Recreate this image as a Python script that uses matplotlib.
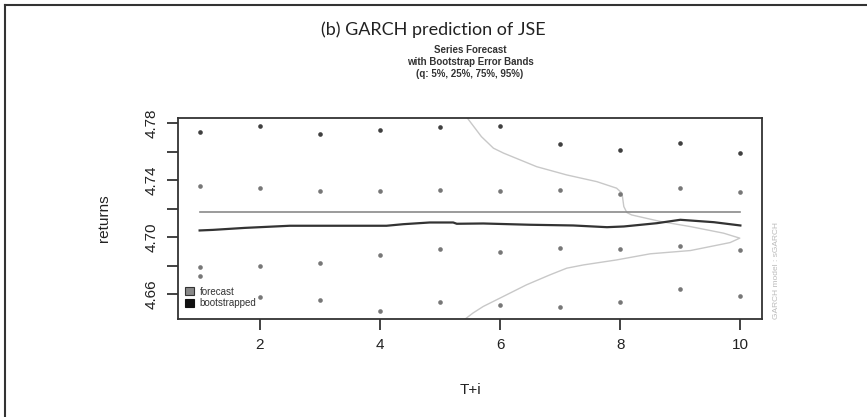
import numpy as np
import matplotlib
matplotlib.use("Agg")
import matplotlib.pyplot as plt
from matplotlib.patches import Rectangle
from matplotlib.lines import Line2D

# horizon steps
steps = [1, 2, 3, 4, 5, 6, 7, 8, 9, 10]
# bootstrap quantile points
q95 = [4.7741, 4.7783, 4.7723, 4.7753, 4.7776, 4.7783, 4.7655, 4.7610, 4.7664, 4.7590]
q75 = [4.7360, 4.7346, 4.7323, 4.7323, 4.7332, 4.7323, 4.7330, 4.7302, 4.7346, 4.7316]
q25 = [4.6787, 4.6794, 4.6818, 4.6878, 4.6916, 4.6899, 4.6923, 4.6916, 4.6939, 4.6909]
q05 = [4.6728, 4.6579, 4.6560, 4.6478, 4.6546, 4.6523, 4.6506, 4.6546, 4.6635, 4.6590]

forecast = [4.7175] * 10

boot_x = [1.0, 1.22, 1.75, 2.5, 4.11, 4.39, 4.83, 5.22, 5.28, 5.72, 6.5, 7.22,
          7.78, 8.06, 8.61, 9.0, 9.56, 10.0]
boot_y = [4.7047, 4.7051, 4.7065, 4.7080, 4.7080, 4.7091, 4.7103, 4.7103, 4.7094,
          4.7096, 4.7087, 4.7082, 4.7070, 4.7075, 4.7098, 4.7122, 4.7105, 4.7082]

# density of the bootstrapped series (drawn sideways)
dens_x = [5.455, 5.69, 5.89, 6.06, 6.61, 7.11, 7.61, 7.94, 8.03, 8.06, 8.11, 8.19,
          8.67, 9.17, 9.72, 9.99, 9.83, 9.17, 8.5, 7.94, 7.39, 7.11, 6.83, 6.44,
          6.0, 5.72, 5.55, 5.42]
dens_y = [4.7837, 4.7706, 4.7625, 4.7590, 4.7495, 4.7437, 4.7390, 4.7344, 4.7309,
          4.7215, 4.7173, 4.7156, 4.7110, 4.7074, 4.7028, 4.6993, 4.6962, 4.6906,
          4.6883, 4.6840, 4.6805, 4.6782, 4.6735, 4.6665, 4.6572, 4.6513, 4.6467,
          4.6425]

xticks = [2, 4, 6, 8, 10]
yticks = [4.66, 4.68, 4.70, 4.72, 4.74, 4.76, 4.78]
ylabels = ["4.66", "", "4.70", "", "4.74", "", "4.78"]

SANS = ["Liberation Sans", "DejaVu Sans"]

fig = plt.figure(figsize=(8.67, 4.17), dpi=100)
fig.patch.set_facecolor("white")

# outer frame (top and left edges visible)
fig.add_artist(Line2D([5 / 867, 1.0], [1 - 5 / 417, 1 - 5 / 417], color="#333333",
                      lw=1.5, transform=fig.transFigure))
fig.add_artist(Line2D([5 / 867, 5 / 867], [0, 1 - 5 / 417], color="#333333",
                      lw=1.5, transform=fig.transFigure))

fig.text(433 / 867, 1 - 30 / 417, "(b) GARCH prediction of JSE", ha="center",
         va="center", fontsize=13, family=["Lato", "DejaVu Sans"], color="#222222")
fig.text(470 / 867, 1 - 62 / 417, "Series Forecast\nwith Bootstrap Error Bands\n(q: 5%, 25%, 75%, 95%)",
         ha="center", va="center", fontsize=7, fontweight="bold", family=SANS,
         color="#333333", linespacing=1.25)

ax = fig.add_axes([178 / 867, 1 - 319 / 417, 584 / 867, 201 / 417])
ax.set_xlim(0.64, 10.36)
ax.set_ylim(4.6425, 4.7837)

ax.plot(dens_x, dens_y, color="#c8c8c8", lw=1.0, zorder=1)
ax.plot(steps, forecast, color="#8a8a8a", lw=1.2, zorder=2)
ax.plot(boot_x, boot_y, color="#333333", lw=1.6, zorder=3)

ax.scatter(steps, q95, s=11, color="#404040", zorder=4, linewidths=0)
for q in (q75, q25, q05):
    ax.scatter(steps, q, s=11, color="#777777", zorder=4, linewidths=0)

for sp in ax.spines.values():
    sp.set_color("#333333")
    sp.set_linewidth(1.3)

ax.set_xticks(xticks)
ax.set_xticklabels([str(t) for t in xticks], family=SANS, fontsize=11, color="#222222")
ax.set_yticks(yticks)
ax.set_yticklabels(ylabels, family=SANS, fontsize=11, color="#222222", rotation=90,
                   va="center")
ax.tick_params(length=8, width=1.3, color="#333333", pad=6)

ax.set_xlabel("T+i", family=SANS, fontsize=11, color="#222222", labelpad=22)
ax.set_ylabel("returns", family=SANS, fontsize=11, color="#222222", labelpad=24)

# legend drawn like base R legend
h1 = Rectangle((0, 0), 1, 1, facecolor="#888888", edgecolor="#333333", lw=0.8)
h2 = Rectangle((0, 0), 1, 1, facecolor="#111111", edgecolor="#111111", lw=0.8)
ax.legend([h1, h2], ["forecast", "bootstrapped"], loc="lower left", frameon=False,
          prop={"family": SANS, "size": 7}, handlelength=0.9, handleheight=0.9,
          handletextpad=0.6, labelspacing=0.15, borderaxespad=0.3,
          bbox_to_anchor=(0.0, 0.02), labelcolor="#333333")

fig.text(777 / 867, 1 - 319 / 417, "GARCH model : sGARCH", rotation=90, ha="center",
         va="bottom", fontsize=6, family=SANS, color="#bbbbbb")

fig.savefig("out.png", dpi=100)
